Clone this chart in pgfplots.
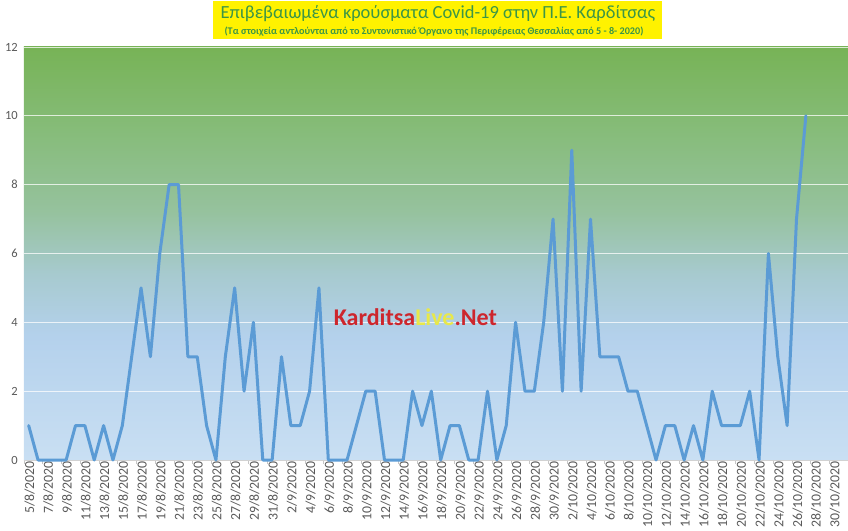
\documentclass[border=0pt]{standalone}
\usepackage{fontspec}
\setmainfont{Carlito}
\usepackage{pgfplots}
\pgfplotsset{compat=1.18}
\definecolor{bgA}{RGB}{201,223,243}
\definecolor{bgB}{RGB}{180,209,236}
\definecolor{bgC}{RGB}{167,202,207}
\definecolor{bgD}{RGB}{150,194,158}
\definecolor{bgE}{RGB}{134,188,121}
\definecolor{bgF}{RGB}{119,179,86}
\definecolor{lineblue}{RGB}{91,155,213}
\definecolor{lblgray}{RGB}{89,89,89}
\definecolor{titlegreen}{RGB}{60,150,70}
\definecolor{wmred}{RGB}{205,38,45}
\definecolor{wmyellow}{RGB}{232,232,74}
\pgfdeclareverticalshading{excelbg}{100bp}{color(0bp)=(bgA); color(25bp)=(bgA); color(40bp)=(bgB); color(47.5bp)=(bgC); color(55bp)=(bgD); color(65bp)=(bgE); color(75bp)=(bgF); color(100bp)=(bgF)}
\begin{document}
\begin{tikzpicture}[x=1pt,y=1pt]
\useasboundingbox (-24,-70) rectangle (824,460);
\begin{axis}[
  at={(0,0)}, anchor=south west,
  scale only axis, width=824pt, height=413pt,
  xmin=-0.5, xmax=87.5, ymin=0, ymax=12,
  ytick={0,2,...,12},
  axis x line*=bottom, axis y line*=left,
  x axis line style={-, draw=gray!35, line width=0.8pt},
  y axis line style={draw=none},
  axis background/.style={shading=excelbg},
  ymajorgrids,
  major grid style={draw=white, opacity=0.75, line width=0.8pt},
  ytick style={draw=none},
  xtick={-0.5,1.5,...,87.5},
  xticklabels={},
  tick align=outside,
  major tick length=4pt,
  xtick style={draw=gray!45, line width=0.6pt},
  extra x ticks={0,2,...,86},
  extra x tick labels={5/8/2020,7/8/2020,9/8/2020,11/8/2020,13/8/2020,15/8/2020,17/8/2020,19/8/2020,21/8/2020,23/8/2020,25/8/2020,27/8/2020,29/8/2020,31/8/2020,2/9/2020,4/9/2020,6/9/2020,8/9/2020,10/9/2020,12/9/2020,14/9/2020,16/9/2020,18/9/2020,20/9/2020,22/9/2020,24/9/2020,26/9/2020,28/9/2020,30/9/2020,2/10/2020,4/10/2020,6/10/2020,8/10/2020,10/10/2020,12/10/2020,14/10/2020,16/10/2020,18/10/2020,20/10/2020,22/10/2020,24/10/2020,26/10/2020,28/10/2020,30/10/2020},
  extra x tick style={major tick length=0pt, grid=none},
  xticklabel style={rotate=90, anchor=east, font=\fontsize{13.8}{14}\selectfont, text=lblgray, inner sep=1pt, yshift=-1pt},
  yticklabel style={anchor=east, font=\fontsize{12.5}{12.5}\selectfont, text=lblgray, inner sep=0pt, xshift=-2pt},
  /pgf/number format/assume math mode=true,
  clip=false,
]
\addplot[lineblue, line width=3pt, line join=round, line cap=round] coordinates {
(0,1)(1,0)(2,0)(3,0)(4,0)(5,1)(6,1)(7,0)(8,1)(9,0)(10,1)(11,3)(12,5)(13,3)(14,6)(15,8)(16,8)(17,3)(18,3)(19,1)(20,0)(21,3)(22,5)(23,2)(24,4)(25,0)(26,0)(27,3)(28,1)(29,1)(30,2)(31,5)(32,0)(33,0)(34,0)(35,1)(36,2)(37,2)(38,0)(39,0)(40,0)(41,2)(42,1)(43,2)(44,0)(45,1)(46,1)(47,0)(48,0)(49,2)(50,0)(51,1)(52,4)(53,2)(54,2)(55,4)(56,7)(57,2)(58,9)(59,2)(60,7)(61,3)(62,3)(63,3)(64,2)(65,2)(66,1)(67,0)(68,1)(69,1)(70,0)(71,1)(72,0)(73,2)(74,1)(75,1)(76,1)(77,2)(78,0)(79,6)(80,3)(81,1)(82,7)(83,10)
};
\node[font=\bfseries\fontsize{24}{24}\selectfont, inner sep=0pt] at (axis cs:41.3,4.14) {\textcolor{wmred}{Karditsa}\textcolor{wmyellow}{Live}\textcolor{wmred}{.Net}};
\end{axis}
\fill[yellow] (189,421) rectangle (638,459);
\node[anchor=base, text=titlegreen, font=\fontsize{18.5}{20}\selectfont, inner sep=0pt] at (414,441) {Επιβεβαιωμένα κρούσματα Covid-19 στην Π.Ε. Καρδίτσας};
\node[anchor=base, text=titlegreen, font=\bfseries\fontsize{10.2}{11}\selectfont, inner sep=0pt] at (410,425) {(Τα στοιχεία αντλούνται από το Συντονιστικό Όργανο της Περιφέρειας Θεσσαλίας από 5 - 8- 2020)};
\end{tikzpicture}
\end{document}
